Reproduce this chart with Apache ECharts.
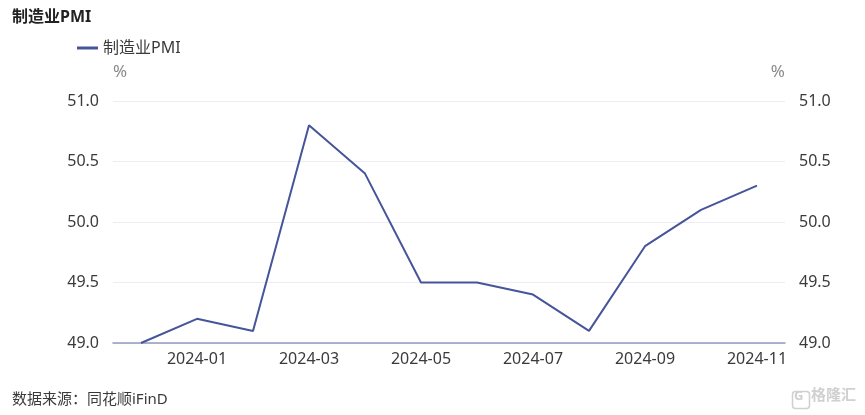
<!DOCTYPE html>
<html><head><meta charset="utf-8">
<script src="https://cdn.jsdelivr.net/npm/echarts@6/dist/echarts.min.js"></script>
<style>html,body{margin:0;padding:0;background:#fff}#c{width:865px;height:415px}</style>
</head><body><div id="c"></div>
<script>
const categories = ['2023-12','2024-01','2024-02','2024-03','2024-04','2024-05','2024-06','2024-07','2024-08','2024-09','2024-10','2024-11'];
const pmiValues = [49.0, 49.2, 49.1, 50.8, 50.4, 49.5, 49.5, 49.4, 49.1, 49.8, 50.1, 50.3];
const seriesName = '制造业PMI';
const titleText = '制造业PMI';
const sourceText = '数据来源：同花顺iFinD';
const unitText = '%';

const font = '"Noto Sans","Noto Sans CJK SC",sans-serif';
const chart = echarts.init(document.getElementById('c'), null, {renderer:'canvas'});
const yAxisCommon = {
  type:'value', min:49, max:51, interval:0.5,
  name: unitText, nameGap: 20,
  axisLine:{show:false}, axisTick:{show:false},
  axisLabel:{color:'#3a3a3a', fontSize:16, fontFamily:font, margin:14, formatter:v=>v.toFixed(1)},
  splitLine:{lineStyle:{color:'#ececf2'}}
};
chart.setOption({
  animation:false,
  title:[
    {text:titleText, left:7, top:4, textStyle:{fontSize:16, fontWeight:'bold', color:'#222', fontFamily:font}},
    {text:sourceText, left:7, top:387, textStyle:{fontSize:15, fontWeight:'normal', color:'#3a3a3a', fontFamily:font}}
  ],
  graphic:[
    {type:'rect', left:790, top:389, shape:{width:17, height:17, r:3}, style:{fill:'none', stroke:'#d0d0d0', lineWidth:1.5}},
    {type:'text', left:794, top:390, style:{text:'G', fill:'#d0d0d0', font:'bold 13px "Noto Sans",sans-serif'}},
    {type:'text', left:811, top:387, style:{text:'格隆汇', fill:'#d0d0d0', font:'bold 15px "Noto Sans CJK SC",sans-serif'}}
  ],
  legend:{
    left:72, top:35, itemWidth:21, itemHeight:3, itemGap:6,
    icon:'rect',
    textStyle:{fontSize:16, color:'#3a3a3a', fontFamily:font},
    data:[seriesName]
  },
  grid:{left:113, right:80, top:101, bottom:72},
  xAxis:{
    type:'category', data:categories, boundaryGap:true,
    axisLine:{lineStyle:{color:'#8f9cc0', width:1.5}},
    axisTick:{show:false},
    axisLabel:{color:'#3a3a3a', fontSize:16, fontFamily:font, margin:8, interval:(i)=>i%2===1}
  },
  yAxis:[
    Object.assign({}, yAxisCommon, {position:'left', nameTextStyle:{color:'#8a8a8a', fontSize:17, fontFamily:font, align:'left'}}),
    Object.assign({}, yAxisCommon, {position:'right', nameTextStyle:{color:'#8a8a8a', fontSize:17, fontFamily:font, align:'right'}})
  ],
  series:[{
    name:seriesName, type:'line', data:pmiValues, yAxisIndex:0,
    symbol:'none', lineStyle:{color:'#46549a', width:2}, itemStyle:{color:'#46549a'}
  }]
});
</script></body></html>
